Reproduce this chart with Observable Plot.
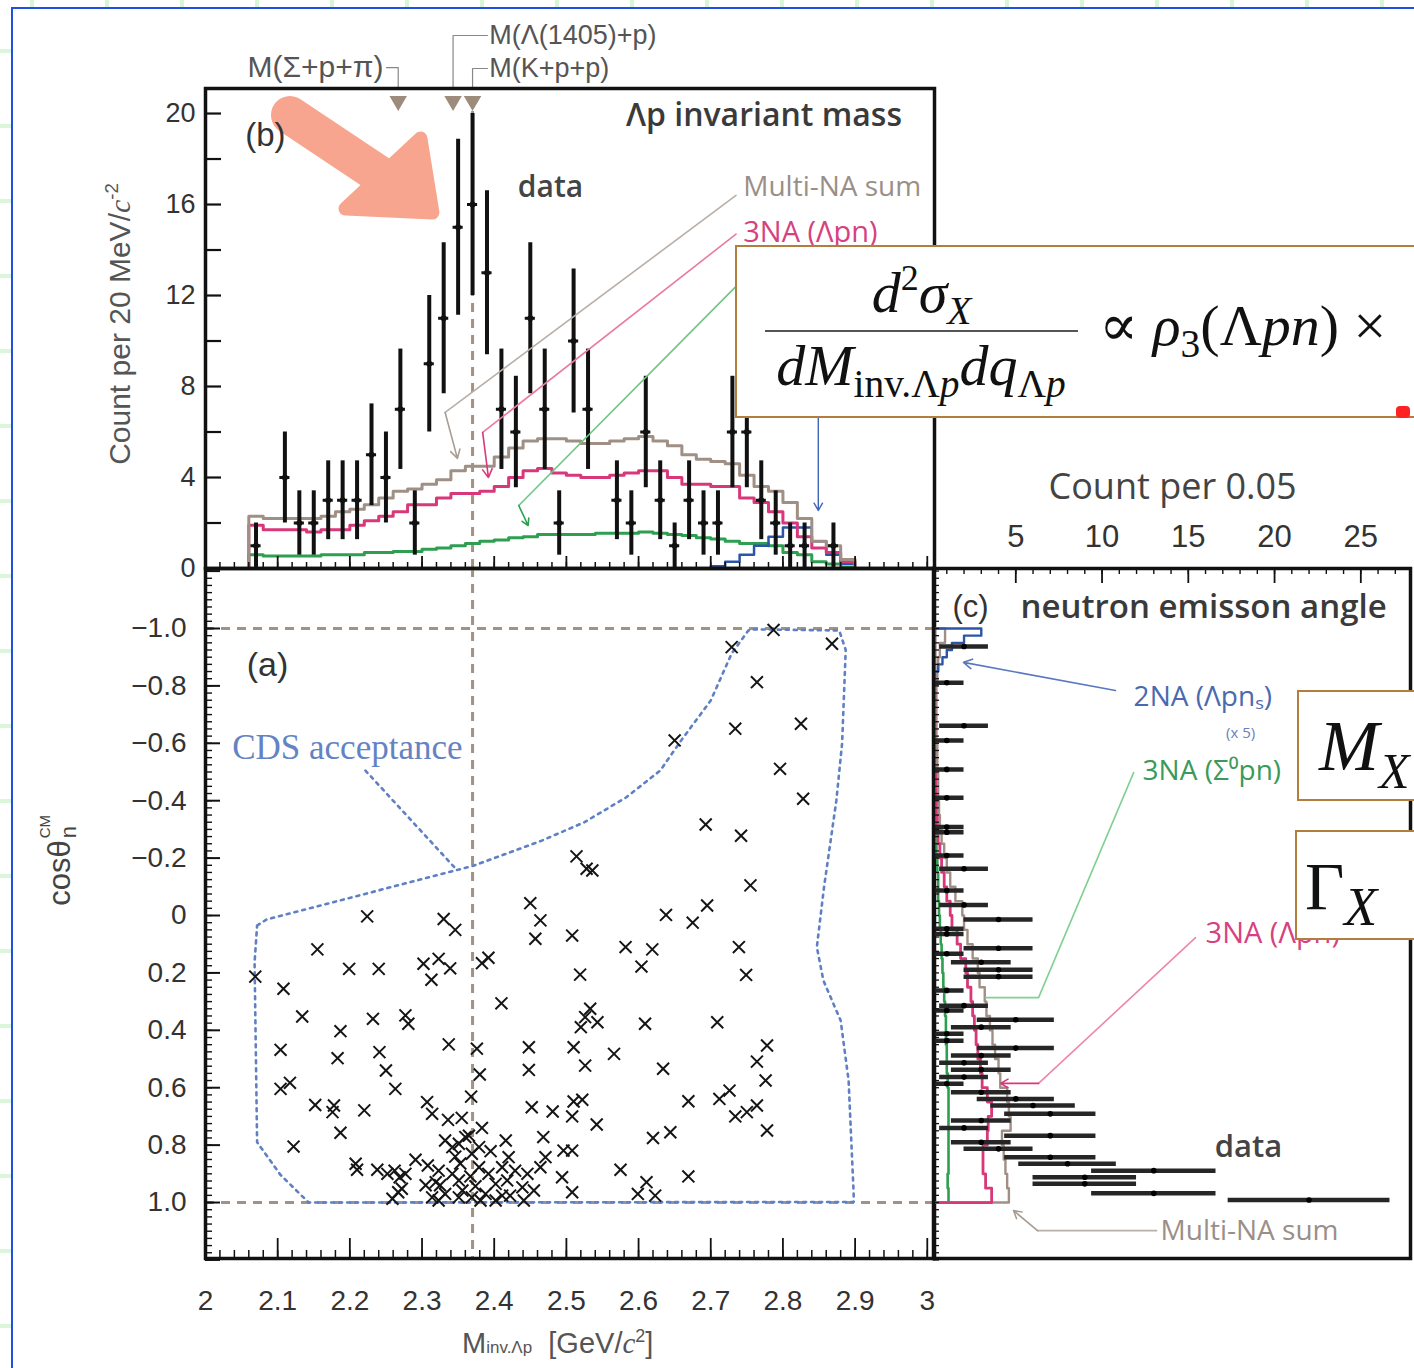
<!DOCTYPE html>
<html><head><meta charset="utf-8">
<script src="https://cdn.jsdelivr.net/npm/d3@7"></script>
<script src="https://cdn.jsdelivr.net/npm/@observablehq/plot@0.6"></script>
<style>
html,body{margin:0;padding:0;overflow:hidden;background:#fff;}
#page{position:relative;width:1414px;height:1368px;overflow:hidden;background:#fff;}
#page svg{position:absolute;left:0;top:0;}
.box{position:absolute;background:#fff;border:2px solid #b27d3e;box-sizing:border-box;font-family:'Liberation Serif','DejaVu Serif',serif;color:#111;line-height:1;overflow:hidden;}
.sb{font-size:0.68em;position:relative;top:0.3em;}
.sp{font-size:0.62em;position:relative;top:-0.62em;}
.rot{position:absolute;transform:translate(-50%,-50%) rotate(-90deg);white-space:nowrap;}
</style></head>
<body><div id="page"></div>
<script>
const W = 1414, H = 1368;
const FS = "'Liberation Sans', Arial, sans-serif";
const FT = "'Open Sans', 'Noto Sans', sans-serif";

// ---------- Panel (b): Λp invariant mass, 20 MeV bins ----------
const massBins = [2.07,2.09,2.11,2.13,2.15,2.17,2.19,2.21,2.23,2.25,2.27,2.29,2.31,2.33,2.35,2.37,2.39,2.41,2.43,2.45,2.47,2.49,2.51,2.53,2.55,2.57,2.59,2.61,2.63,2.65,2.67,2.69,2.71,2.73,2.75,2.77,2.79,2.81,2.83,2.85,2.87,2.89];
const dataCounts = [1,0,4,2,2,3,3,3,5,4,7,2,9,11,15,16,13,7,6,11,7,2,10,7,0,3,2,6,3,1,3,2,2,6,6,3,2,1,1,0,1,0];
const multiNA = [2.3,2.2,2.2,2.2,2.2,2.3,2.5,2.6,2.8,3.1,3.4,3.5,3.7,3.9,4.3,4.5,4.5,4.9,5.3,5.6,5.7,5.7,5.6,5.5,5.5,5.6,5.7,5.8,5.6,5.4,5.0,4.8,4.7,4.6,4.1,3.6,3.4,2.9,2.2,1.2,1.0,0.4];
const threeNA_Lpn = [1.9,1.7,1.7,1.7,1.6,1.7,1.7,1.9,2.1,2.3,2.5,2.8,2.8,3.1,3.3,3.3,3.4,3.6,4.0,4.3,4.4,4.2,4.1,4.0,4.0,4.1,4.2,4.3,4.3,4.0,3.7,3.7,3.6,3.6,3.1,2.9,2.5,2.0,1.4,0.9,0.7,0.3];
const threeNA_S0pn = [0.6,0.55,0.55,0.55,0.55,0.6,0.6,0.6,0.7,0.7,0.75,0.75,0.85,0.9,1.0,1.1,1.2,1.25,1.35,1.4,1.5,1.5,1.5,1.5,1.55,1.55,1.55,1.6,1.55,1.5,1.45,1.35,1.3,1.2,1.1,1.1,1.0,0.7,0.6,0.3,0.2,0.05];
const twoNA = [0,0,0,0,0,0,0,0,0,0,0,0,0,0,0,0,0,0,0,0,0,0,0,0,0,0,0,0,0,0,0,0,0.1,0.3,0.6,1.0,1.4,1.8,1.8,1.2,0.6,0.2];
const thresholdMass = [2.267, 2.343, 2.370];

// ---------- Panel (a): scatter M_inv vs cos(theta_n) ----------
const scatterMass = [2.787,2.729,2.868,2.764,2.734,2.825,2.650,2.796,2.828,2.693,2.742,2.514,2.528,2.536,2.755,
2.450,2.464,2.457,2.508,2.638,2.675,2.695,2.582,2.619,2.604,2.739,2.749,2.519,2.533,2.526,2.543,2.520,2.609,2.709,2.448,2.510,2.526,2.566,2.448,2.634,2.778,2.764,2.776,2.452,2.481,2.510,2.522,2.508,2.542,2.669,2.712,2.726,2.734,2.750,2.764,2.778,2.468,2.496,2.508,2.620,2.644,2.575,2.669,2.611,2.599,2.623,2.494,2.508,2.471,2.464,2.446,2.455,2.441,
2.224,2.330,2.346,2.155,2.199,2.240,2.302,2.323,2.339,2.313,2.383,2.392,2.069,2.108,2.410,2.134,2.232,2.277,2.281,2.187,2.104,2.183,2.241,2.250,2.337,2.376,2.380,2.263,2.104,2.117,2.152,2.178,2.176,2.220,2.187,2.307,2.314,2.336,2.355,2.368,2.122,2.208,2.210,2.238,2.252,2.262,2.269,2.277,2.267,2.272,2.291,2.308,2.383,2.360,2.365,2.351,2.420,2.323,2.319,2.342,2.351,2.332,2.314,2.369,2.379,2.392,2.402,2.411,2.388,2.369,2.351,2.439,2.429,2.418,2.353,2.342,2.379,2.411,2.323,2.259,
2.332,2.374,2.395,2.416,2.325,2.356,2.422,2.305,2.381,2.402,2.367,2.346];
const scatterCos = [-0.995,-0.935,-0.947,-0.813,-0.651,-0.668,-0.610,-0.511,-0.407,-0.317,-0.278,-0.206,-0.163,-0.157,-0.105,
-0.043,0.017,0.081,0.070,-0.002,0.025,-0.035,0.110,0.118,0.178,0.110,0.207,0.206,0.325,0.354,0.372,0.389,0.377,0.372,0.459,0.459,0.523,0.482,0.538,0.534,0.453,0.509,0.575,0.668,0.683,0.648,0.642,0.700,0.728,0.647,0.639,0.610,0.700,0.685,0.662,0.749,0.772,0.819,0.819,0.775,0.755,0.886,0.909,0.929,0.970,0.976,0.912,0.964,0.842,0.877,0.900,0.958,0.993,
0.003,0.012,0.050,0.118,0.186,0.186,0.168,0.151,0.184,0.224,0.166,0.147,0.213,0.255,0.306,0.352,0.360,0.348,0.377,0.403,0.468,0.497,0.476,0.540,0.449,0.464,0.554,0.604,0.604,0.583,0.660,0.662,0.685,0.679,0.757,0.650,0.691,0.712,0.705,0.631,0.805,0.865,0.886,0.886,0.900,0.889,0.912,0.900,0.964,0.952,0.851,0.871,0.740,0.772,0.767,0.795,0.842,0.889,0.929,0.900,0.923,0.970,0.982,0.830,0.877,0.900,0.935,0.976,0.970,0.982,0.982,0.947,0.889,0.923,0.864,0.807,0.807,0.877,0.993,0.987,
0.784,0.943,0.821,0.784,0.940,0.958,0.976,0.940,0.993,0.993,0.909,0.840];
const cdsMass = [2.0715,2.0845,2.372,2.466,2.525,2.583,2.630,2.659,2.700,2.729,2.752,2.760,2.878,2.887,2.882,2.874,2.857,2.847,2.856,2.880,2.891,2.898,2.898,2.143,2.104,2.0715,2.068,2.0715];
const cdsCos  = [0.035,0.014,-0.174,-0.261,-0.325,-0.412,-0.505,-0.610,-0.749,-0.913,-0.993,-0.997,-0.993,-0.925,-0.600,-0.400,-0.100,0.110,0.226,0.366,0.575,0.970,0.998,1.000,0.904,0.790,0.163,0.035];

// ---------- Panel (c): neutron emission angle, count per 0.05 ----------
const angCos = [-0.937,-0.811,-0.661,-0.610,-0.509,-0.410,-0.308,-0.290,-0.209,-0.163,-0.087,-0.037,0.014,0.046,0.064,0.114,0.133,0.163,0.189,0.213,0.261,0.314,0.331,0.363,0.389,0.412,0.436,0.462,0.488,0.513,0.537,0.563,0.586,0.616,0.639,0.662,0.691,0.714,0.740,0.767,0.790,0.813,0.842,0.865,0.889,0.912,0.935,0.968,0.991];
const angCounts = [2,1,2,1,1,1,1,1,1,2,1,2,4,1,1,4,1,3,4,4,1,2,1,5,3,1,1,5,3,2,3,2,1,3,5,6,7,3,2,7,3,4,7,8,13,9,9,13,22];
const angBins = [-1.0,-0.95,-0.9,-0.85,-0.8,-0.75,-0.7,-0.65,-0.6,-0.55,-0.5,-0.45,-0.4,-0.35,-0.3,-0.25,-0.2,-0.15,-0.1,-0.05,0.0,0.05,0.1,0.15,0.2,0.25,0.3,0.35,0.4,0.45,0.5,0.55,0.6,0.65,0.7,0.75,0.8,0.85,0.9,0.95];
const multiNA_ang = [0.9,0.6,0.5,0.45,0.4,0.4,0.4,0.4,0.45,0.45,0.5,0.5,0.55,0.6,0.7,0.85,1.0,1.2,1.5,1.9,2.0,2.2,2.5,2.8,2.9,3.2,3.3,3.5,3.65,3.8,4.0,4.1,4.5,4.6,4.7,4.2,4.3,4.4,4.5,4.6];
const threeNA_Lpn_ang = [0.3,0.3,0.3,0.3,0.3,0.3,0.3,0.3,0.3,0.3,0.35,0.35,0.4,0.45,0.5,0.6,0.7,0.85,1.0,1.2,1.3,1.6,1.8,2.1,2.2,2.4,2.5,2.6,2.7,2.8,2.95,3.05,3.35,3.6,3.4,3.35,3.1,3.1,3.25,3.6];
const threeNA_S0pn_ang = [0.1,0.1,0.1,0.1,0.1,0.1,0.1,0.1,0.1,0.1,0.15,0.15,0.25,0.3,0.35,0.4,0.45,0.5,0.5,0.55,0.6,0.65,0.7,0.75,0.8,0.85,0.9,0.95,0.95,1.0,1.0,1.05,1.1,1.1,1.1,1.1,1.1,1.1,1.05,1.1];
const twoNA_angBins = [-1.0,-0.975,-0.95,-0.925,-0.9,-0.875,-0.85,-0.825];
const twoNA_ang_x5 = [3.0,2.0,1.3,1.0,0.75,0.5,0.3,0.1];

// ---------- tick labels ----------
const massTicks = [2,2.1,2.2,2.3,2.4,2.5,2.6,2.7,2.8,2.9,3];
const massTickLabels = ["2","2.1","2.2","2.3","2.4","2.5","2.6","2.7","2.8","2.9","3"];
const countTicks = [0,4,8,12,16,20];
const cosTicks = [-1,-0.8,-0.6,-0.4,-0.2,0,0.2,0.4,0.6,0.8,1];
const cosTickLabels = ["\u22121.0","\u22120.8","\u22120.6","\u22120.4","\u22120.2","0","0.2","0.4","0.6","0.8","1.0"];
const angCountTicks = [5,10,15,20,25];

// ---------- colours ----------
const C_DATA = "#111", C_MULTI = "#a08f84", C_LPN = "#d8387a", C_S0 = "#2e9f50", C_2NA = "#2c55a8", C_DASH = "#a39282", C_CDS = "#5f80c4";

// ---------- helpers ----------
function T(t, x, y, o = {}) {
  return Plot.text([{t, x, y}], {x: "x", y: "y", text: "t", textAnchor: o.a || "middle", lineAnchor: "middle",
    fontSize: o.s || 26, fontFamily: o.f || FT, fontWeight: o.w || 400, fontStyle: o.i ? "italic" : "normal", fill: o.c || "#333"});
}
function L(pts, o = {}) {
  const opt = {x: "x", y: "y", stroke: o.c || "#999", strokeWidth: o.w || 1.6};
  if (o.d) opt.strokeDasharray = o.d;
  return Plot.line(pts.map(([x, y]) => ({x, y})), opt);
}
function A(p1, p2, o = {}) {
  return Plot.arrow([{x1: p1[0], y1: p1[1], x2: p2[0], y2: p2[1]}], {x1: "x1", y1: "y1", x2: "x2", y2: "y2",
    stroke: o.c || "#999", strokeWidth: o.w || 1.6, headLength: o.h || 9});
}
const range = (a, b, s) => d3.range(Math.round((b - a) / s) + 1).map(i => +(a + i * s).toFixed(4));
const STYLE = {background: "transparent", overflow: "visible"};

// ---------- panel geometry ----------
const bL = 205, bR = 934, bT = 88, bB = 568;
const aT = 568, aB = 1258;
const cL = 933, cR = 1410;
const bw = bR - bL, bh = bB - bT, ah = aB - aT, cw = cR - cL;
const massDomain = [2, 3.01];
const cosDomain = [-1.209, 1.195];

// ---------- panel (b) ----------
const dataB = massBins.map((m, i) => ({m, n: dataCounts[i]})).filter(d => d.n > 0);
function stepB(vals) {
  const pts = [{x: massBins[0] - 0.01, y: 0}];
  massBins.forEach((m, i) => pts.push({x: m - 0.01, y: vals[i]}));
  pts.push({x: massBins[massBins.length - 1] + 0.01, y: 0});
  return pts;
}
const plotB = Plot.plot({
  width: W, height: H, marginLeft: bL, marginRight: W - bR, marginTop: bT, marginBottom: H - bB,
  x: {domain: massDomain, axis: null}, y: {domain: [0, 21.1], axis: null}, style: STYLE,
  marks: [
    Plot.ruleX([2.37], {y1: 0, y2: 20.3, stroke: C_DASH, strokeWidth: 3, strokeDasharray: "9,7"}),
    Plot.line(stepB(threeNA_S0pn), {x: "x", y: "y", curve: "step-after", stroke: C_S0, strokeWidth: 3}),
    Plot.line(stepB(twoNA), {x: "x", y: "y", curve: "step-after", stroke: C_2NA, strokeWidth: 2.5}),
    Plot.line(stepB(threeNA_Lpn), {x: "x", y: "y", curve: "step-after", stroke: C_LPN, strokeWidth: 3}),
    Plot.line(stepB(multiNA), {x: "x", y: "y", curve: "step-after", stroke: C_MULTI, strokeWidth: 3}),
    Plot.ruleX(dataB, {x: "m", y1: d => d.n - Math.sqrt(d.n), y2: d => d.n + Math.sqrt(d.n), stroke: C_DATA, strokeWidth: 4}),
    Plot.ruleY(dataB, {y: "n", x1: d => d.m - 0.007, x2: d => d.m + 0.007, stroke: C_DATA, strokeWidth: 3}),
    Plot.dot(dataB, {x: "m", y: "n", r: 3, fill: C_DATA}),
    // thresholds
    Plot.dot(thresholdMass, {x: d => d, y: 20.55, symbol: "triangle", rotate: 180, r: 6.5, fill: "#9d8b7b"}),
    L([[2.2507, 22.02], [2.267, 22.02], [2.267, 21.1]], {c: "#888", w: 1.2}),
    L([[2.3906, 23.43], [2.343, 23.43], [2.343, 21.1]], {c: "#888", w: 1.2}),
    L([[2.3906, 21.98], [2.370, 21.98], [2.370, 21.1]], {c: "#888", w: 1.2}),
    T("M(\u03a3+p+\u03c0)", 2.2465, 22.02, {a: "end", f: FS, s: 30, c: "#555"}),
    T("M(\u039b(1405)+p)", 2.393, 23.43, {a: "start", f: FS, s: 27, c: "#555"}),
    T("M(K+p+p)", 2.393, 21.98, {a: "start", f: FS, s: 27, c: "#555"}),
    // leaders
    L([[2.735, 16.4], [2.332, 6.86]], {c: "#b8afa8"}), A([2.332, 6.86], [2.349, 4.84], {c: "#a89d95"}),
    L([[2.735, 14.7], [2.384, 5.98]], {c: "#ea7aa4"}), A([2.384, 5.98], [2.392, 4.0], {c: C_LPN}),
    L([[2.735, 12.4], [2.434, 2.77]], {c: "#70c585"}), A([2.434, 2.77], [2.447, 1.89], {c: C_S0}),
    A([2.849, 6.64], [2.849, 2.55], {c: "#3f66b8", w: 1.4}),
    // ticks
    Plot.tickY(range(0, 20, 2), {y: d => d, insetRight: bw - 16, stroke: "#111", strokeWidth: 2.2}),
    Plot.tickX(range(2, 3, 0.02), {x: d => d, insetTop: bh - 6, stroke: "#111", strokeWidth: 1.5}),
    Plot.tickX(range(2, 3, 0.1), {x: d => d, insetTop: bh - 12, stroke: "#111", strokeWidth: 1.8}),
    Plot.text(countTicks, {y: d => d, text: d => String(d), frameAnchor: "left", lineAnchor: "middle", dx: -10, textAnchor: "end", fontSize: 27, fontFamily: FS, fill: "#333"}),
    Plot.frame({stroke: "#111", strokeWidth: 3.5}),
    // texts
    T("\u039bp invariant mass", 2.965, 19.9, {a: "end", s: 32, w: 600, c: "#3a3a3a"}),
    T("data", 2.478, 16.75, {s: 30, w: 600, c: "#444"}),
    T("Multi-NA sum", 2.745, 16.75, {a: "start", s: 28, c: "#9a8f88"}),
    T("3NA (\u039bpn)", 2.745, 14.77, {a: "start", s: 29, c: "#d6417f"}),
    // highlight arrow
    L([[2.117, 19.93], [2.249, 17.14]], {c: "#f8a58f", w: 38}),
    Plot.line([{x: 2.194, y: 15.82}, {x: 2.3144, y: 15.65}, {x: 2.2978, y: 18.9}, {x: 2.194, y: 15.82}],
      {x: "x", y: "y", fill: "#f8a58f", stroke: "#f8a58f", strokeWidth: 14, strokeLinejoin: "round"}),
    T("(b)", 2.083, 19.03, {f: FS, s: 33, c: "#333"})
  ]
});

// ---------- panel (a) ----------
const scatter = scatterMass.map((m, i) => ({m, c: scatterCos[i]}));
const cds = cdsMass.map((m, i) => ({m, c: cdsCos[i]}));
const plotA = Plot.plot({
  width: W, height: H, marginLeft: bL, marginRight: W - bR, marginTop: aT, marginBottom: H - aB,
  x: {domain: massDomain, axis: null}, y: {domain: cosDomain, reverse: true, axis: null}, style: STYLE,
  marks: [
    Plot.ruleY([-1, 1], {stroke: C_DASH, strokeWidth: 3, strokeDasharray: "9,7"}),
    Plot.ruleX([2.37], {stroke: C_DASH, strokeWidth: 3, strokeDasharray: "9,7"}),
    Plot.line(cds, {x: "m", y: "c", stroke: C_CDS, strokeWidth: 2.6, strokeDasharray: "3,5"}),
    L([[2.2216, -0.505], [2.3463, -0.164]], {c: C_CDS, w: 2.6, d: "3,5"}),
    Plot.dot(scatter, {x: "m", y: "c", symbol: "times", r: 5.5, stroke: "#151515", strokeWidth: 2}),
    Plot.tickY(range(-1.2, 1.2, 0.025), {y: d => d, insetRight: bw - 7, stroke: "#111", strokeWidth: 1.4}),
    Plot.tickY(range(-1.2, 1.2, 0.2), {y: d => d, insetRight: bw - 15, stroke: "#111", strokeWidth: 2}),
    Plot.tickX(range(2, 3, 0.02), {x: d => d, insetTop: ah - 8, stroke: "#111", strokeWidth: 1.5}),
    Plot.tickX(range(2, 3, 0.1), {x: d => d, insetTop: ah - 20, stroke: "#111", strokeWidth: 1.8}),
    Plot.text(cosTicks, {y: d => d, text: (d, i) => cosTickLabels[i], frameAnchor: "left", lineAnchor: "middle", dx: -19, textAnchor: "end", fontSize: 28, fontFamily: FS, fill: "#333"}),
    Plot.text(massTicks, {x: d => d, text: (d, i) => massTickLabels[i], frameAnchor: "bottom", lineAnchor: "middle", dy: 43, fontSize: 28, fontFamily: FS, fill: "#333"}),
    Plot.frame({stroke: "#111", strokeWidth: 3.5}),
    T("(a)", 2.086, -0.871, {f: FS, s: 34, c: "#333"}),
    T("CDS acceptance", 2.037, -0.585, {a: "start", f: "'Liberation Serif','DejaVu Serif',serif", s: 35, c: "#6383c4"})
  ]
});

// ---------- panel (c) ----------
const angData = angCos.map((c, i) => ({c, n: angCounts[i]}));
function stepC(edges, vals, end) {
  const pts = [{x: 0, y: edges[0]}];
  edges.forEach((e, i) => pts.push({x: vals[i], y: e}));
  pts.push({x: vals[vals.length - 1], y: end});
  pts.push({x: 0, y: end});
  return pts;
}
const plotC = Plot.plot({
  width: W, height: H, marginLeft: cL, marginRight: W - cR, marginTop: aT, marginBottom: H - aB,
  x: {domain: [0.23, 27.88], axis: null}, y: {domain: cosDomain, reverse: true, axis: null}, style: STYLE,
  marks: [
    Plot.line(stepC(angBins, threeNA_S0pn_ang, 1.0), {x: "x", y: "y", curve: "step-before", stroke: C_S0, strokeWidth: 2.6, clip: true}),
    Plot.line(stepC(angBins, multiNA_ang, 1.0), {x: "x", y: "y", curve: "step-before", stroke: C_MULTI, strokeWidth: 2.4, clip: true}),
    Plot.line(stepC(angBins, threeNA_Lpn_ang, 1.0), {x: "x", y: "y", curve: "step-before", stroke: C_LPN, strokeWidth: 2.8, clip: true}),
    Plot.line(stepC(twoNA_angBins, twoNA_ang_x5, -0.8), {x: "x", y: "y", curve: "step-before", stroke: C_2NA, strokeWidth: 2.4, clip: true}),
    Plot.ruleY(angData, {y: "c", x1: d => d.n - Math.sqrt(d.n), x2: d => d.n + Math.sqrt(d.n), stroke: "#262626", strokeWidth: 4.5, clip: true}),
    Plot.dot(angData, {x: "n", y: "c", r: 2.8, fill: "#000"}),
    Plot.tickY(range(-1.2, 1.2, 0.025), {y: d => d, insetRight: cw - 6, stroke: "#111", strokeWidth: 1.3}),
    Plot.tickX(range(1, 27, 1), {x: d => d, insetBottom: ah - 6, stroke: "#111", strokeWidth: 1.4}),
    Plot.tickX(angCountTicks, {x: d => d, insetBottom: ah - 15, stroke: "#111", strokeWidth: 1.8}),
    Plot.text(angCountTicks, {x: d => d, text: d => String(d), frameAnchor: "top", lineAnchor: "middle", dy: -31, fontSize: 31, fontFamily: FS, fill: "#333"}),
    Plot.frame({stroke: "#111", strokeWidth: 3.5}),
    // leaders
    A([10.78, -0.784], [1.97, -0.882], {c: "#5a78c0"}),
    L([[11.83, -0.498], [6.32, 0.286], [3.25, 0.286]], {c: "#80d092"}),
    L([[15.42, 0.077], [6.32, 0.585]], {c: "#ee86ad"}), A([6.32, 0.585], [4.12, 0.585], {c: C_LPN, h: 8}),
    L([[13.16, 1.098], [6.26, 1.098]], {c: "#b8afa8"}), A([6.26, 1.098], [4.87, 1.028], {c: "#a89d95", h: 8}),
    // texts
    T("Count per 0.05", 14.09, -1.491, {s: 36, c: "#444"}),
    T("(c)", 2.38, -1.073, {f: FS, s: 31, c: "#333"}),
    T("neutron emisson angle", 5.28, -1.073, {a: "start", s: 33, w: 600, c: "#3a3a3a"}),
    T("2NA (\u039bpn\u209b)", 11.83, -0.760, {a: "start", s: 28, c: "#4a6ab0"}),
    T("(x 5)", 18.03, -0.634, {s: 15, c: "#6a80c0"}),
    T("3NA (\u03a3\u2070pn)", 12.35, -0.505, {a: "start", s: 28, c: "#3a9a5a"}),
    T("3NA (\u039bpn)", 16.0, 0.063, {a: "start", s: 29, c: "#d6417f"}),
    T("data", 18.49, 0.808, {s: 31, w: 600, c: "#444"}),
    T("Multi-NA sum", 13.39, 1.098, {a: "start", s: 28, c: "#9a8f88"})
  ]
});

const page = document.getElementById("page");
page.innerHTML = `
<div style="position:absolute;left:12px;top:0;width:1402px;height:7px;background:repeating-linear-gradient(90deg,transparent 0 18px,#d6f6d6 18px 22px,transparent 22px 75px);"></div>
<div style="position:absolute;left:0;top:9px;width:11px;height:1359px;background:repeating-linear-gradient(180deg,transparent 0 40px,#dcf6dc 40px 44px,transparent 44px 75px);"></div>
<div style="position:absolute;left:12px;top:7px;width:1402px;height:2px;background:#1f4fe8;"></div>
<div style="position:absolute;left:11px;top:7px;width:2px;height:1361px;background:#1f4fe8;"></div>`;
page.appendChild(plotB);
page.appendChild(plotA);
page.appendChild(plotC);

const lab = document.createElement("div");
lab.innerHTML = `
<div class="rot" style="left:120px;top:324px;font:30px 'Liberation Sans',Arial,sans-serif;color:#555;">Count per 20 MeV/<i style="font-family:'Liberation Serif',serif">c</i><span class="sp">-2</span></div>
<div class="rot" style="left:60px;top:858px;font:31px 'Liberation Sans',Arial,sans-serif;color:#444;">cos\u03b8<span style="display:inline-block;position:relative;width:30px;height:10px;"><span style="position:absolute;left:2px;top:-24px;font-size:15px;">CM</span><span style="position:absolute;left:2px;top:-4px;font-size:22px;">n</span></span></div>
<div style="position:absolute;left:462px;top:1327px;white-space:nowrap;font:29px 'Liberation Sans',Arial,sans-serif;color:#555;">M<span style="font-size:17px;">inv.\u039bp</span>&nbsp;&nbsp;[GeV/<i style="font-family:'Liberation Serif',serif">c</i><span class="sp">2</span>]</div>
<div class="box" style="left:735px;top:245px;width:720px;height:173px;">
  <div style="position:absolute;left:28px;top:17px;width:313px;text-align:center;font-size:58px;font-style:italic;">d<span class="sp" style="font-style:normal">2</span>\u03c3<span class="sb">X</span></div>
  <div style="position:absolute;left:28px;top:83px;width:313px;height:2px;background:#555;"></div>
  <div style="position:absolute;left:14px;top:90px;width:340px;text-align:center;font-size:58px;font-style:italic;white-space:nowrap;">dM<span class="sb" style="font-style:normal">inv.\u039b<i>p</i></span>dq<span class="sb" style="font-style:normal">\u039b<i>p</i></span></div>
  <div style="position:absolute;left:362px;top:50px;font-size:58px;white-space:nowrap;">\u221d <i>\u03c1</i><span class="sb">3</span>(\u039b<i>pn</i>) \u00d7</div>
</div>
<div class="box" style="left:1297px;top:690px;width:140px;height:111px;">
  <div style="position:absolute;left:20px;top:18px;font-size:72px;font-style:italic;white-space:nowrap;">M<span style="font-size:50px;position:relative;top:18px;">X</span></div>
</div>
<div class="box" style="left:1295px;top:830px;width:140px;height:110px;">
  <div style="position:absolute;left:8px;top:20px;font-size:68px;white-space:nowrap;">\u0393<span style="font-size:54px;font-style:italic;position:relative;top:16px;">X</span></div>
</div>
<div style="position:absolute;left:1396px;top:406px;width:14px;height:12px;background:#f22;border-radius:4px;"></div>`;
page.appendChild(lab);
</script>
</body></html>
